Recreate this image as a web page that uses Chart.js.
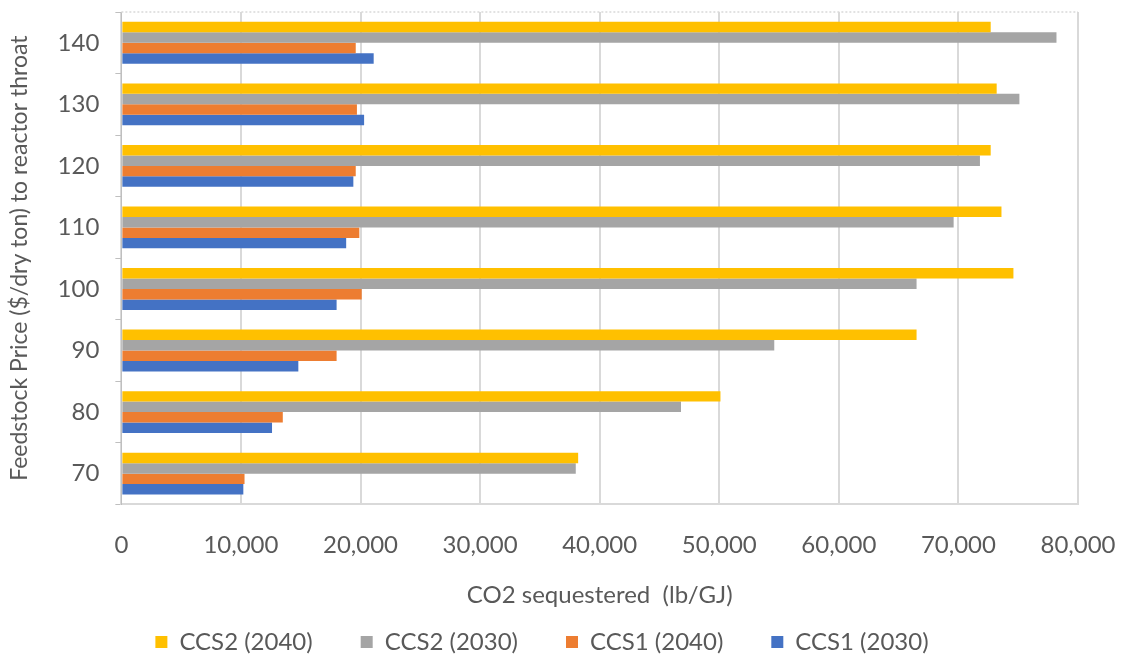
<!DOCTYPE html>
<html>
<head>
<meta charset="utf-8">
<script src="https://cdn.jsdelivr.net/npm/chart.js@4/dist/chart.umd.min.js"></script>
<style>
	html, body { margin: 0; padding: 0; background: #fff; }
	#wrap { width: 1123px; height: 658px; }
</style>
</head>
<body>
<div id="wrap"><canvas id="myChart" width="1123" height="658"></canvas></div>
<script>
// feedstock price categories, top to bottom as drawn
const prices = ['140', '130', '120', '110', '100', '90', '80', '70'];

// CO2 sequestered (lb/GJ)
const ccs2_2040 = [72700, 73200, 72700, 73600, 74600, 66500, 50100, 38200];
const ccs2_2030 = [78200, 75100, 71800, 69600, 66500, 54600, 46800, 38000];
const ccs1_2040 = [19600, 19700, 19600, 19900, 20100, 18000, 13500, 10300];
const ccs1_2030 = [21100, 20300, 19400, 18800, 18000, 14800, 12600, 10200];

const xTicks = [0, 10000, 20000, 30000, 40000, 50000, 60000, 70000, 80000];

const fontFamily = "Lato, 'Liberation Sans', sans-serif";
Chart.defaults.font.family = fontFamily;
Chart.defaults.color = '#595959';

// dashed border along the top of the plot area
const topBorder = {
	id: 'topBorder',
	afterDraw(chart) {
		let a = chart.chartArea;
		let ctx = chart.ctx;
		ctx.save();
		ctx.strokeStyle = '#d9d9d9';
		ctx.lineWidth = 1.5;
		ctx.setLineDash([2, 2]);
		ctx.beginPath();
		ctx.moveTo(a.left, a.top);
		ctx.lineTo(a.right, a.top);
		ctx.stroke();
		ctx.restore();
	}
};

function bar(label, data, color) {
	return {
		label: label,
		data: data,
		backgroundColor: color,
		borderWidth: 0,
		barPercentage: 1.0,
		categoryPercentage: 0.68
	};
}

new Chart(document.getElementById('myChart').getContext('2d'), {
	type: 'bar',
	data: {
		labels: prices,
		datasets: [
			bar('CCS2 (2040)', ccs2_2040, '#FFC000'),
			bar('CCS2 (2030)', ccs2_2030, '#A5A5A5'),
			bar('CCS1 (2040)', ccs1_2040, '#ED7D31'),
			bar('CCS1 (2030)', ccs1_2030, '#4472C4')
		]
	},
	options: {
		indexAxis: 'y',
		responsive: false,
		animation: false,
		layout: { padding: { top: 12, right: 45, left: 6, bottom: -6 } },
		scales: {
			x: {
				min: 0,
				max: 80000,
				afterBuildTicks: (axis) => { axis.ticks = xTicks.map(v => ({ value: v })); },
				afterFit: (axis) => { axis.paddingLeft = 0; axis.paddingRight = 0; },
				ticks: {
					font: { size: 24 },
					padding: 26,
					callback: (v) => v.toLocaleString('en-US')
				},
				grid: { color: '#d9d9d9', lineWidth: 2, drawTicks: false },
				border: { color: '#d9d9d9', width: 2 },
				title: {
					display: true,
					text: 'CO2 sequestered  (lb/GJ)',
					font: { size: 24 },
					padding: { top: -4, bottom: 20 }
				}
			},
			y: {
				afterFit: (axis) => { axis.paddingTop = 0; axis.paddingBottom = 0; },
				grid: {
					offset: true,
					drawOnChartArea: false,
					color: '#bfbfbf',
					tickLength: 6
				},
				border: { color: '#bfbfbf', width: 1 },
				ticks: { font: { size: 24 }, padding: 16 },
				title: {
					display: true,
					text: 'Feedstock Price ($/dry ton) to reactor throat',
					font: { size: 23 },
					padding: { top: 0, bottom: 8 }
				}
			}
		},
		plugins: {
			legend: {
				position: 'bottom',
				labels: {
					boxWidth: 12,
					boxHeight: 12,
					padding: 0,
					font: { size: 24 },
					// widen the gaps between legend items
					generateLabels: (chart) => {
						let items = Chart.defaults.plugins.legend.labels.generateLabels(chart);
						items.forEach((it, i) => {
							if (i < items.length - 1) it.text = it.text + '\u2003\u2003\u2002';
						});
						return items;
					}
				}
			},
			tooltip: { enabled: false }
		}
	},
	plugins: [topBorder]
});
</script>
</body>
</html>
